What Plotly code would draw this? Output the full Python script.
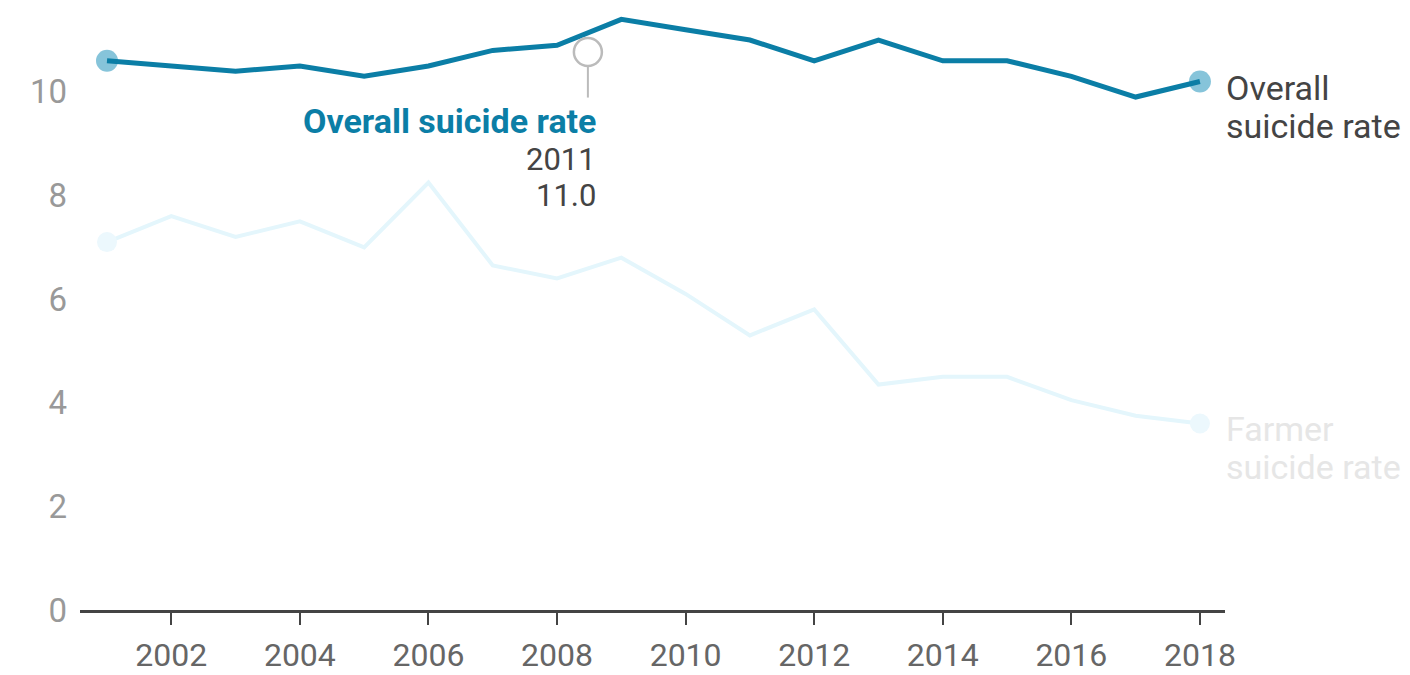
import plotly.graph_objects as go

years = list(range(2001, 2019))
overall_rate = [10.6, 10.5, 10.4, 10.5, 10.3, 10.5, 10.8, 10.9, 11.4, 11.2,
                11.0, 10.6, 11.0, 10.6, 10.6, 10.3, 9.9, 10.2]
farmer_rate = [7.1, 7.6, 7.2, 7.5, 7.0, 8.25, 6.65, 6.4, 6.8, 6.1,
               5.3, 5.8, 4.35, 4.5, 4.5, 4.05, 3.75, 3.6]
x_ticks = [2002, 2004, 2006, 2008, 2010, 2012, 2014, 2016, 2018]
y_ticks = [0, 2, 4, 6, 8, 10]

# hover tooltip shown in the picture
hover_x = 2008.48
hover_y = 10.77
hover_title = "Overall suicide rate"
hover_year = "2011"
hover_value = "11.0"

TEAL = "#0b7ea6"
TEAL_LIGHT = "#86c4da"
FARMER = "#e4f6fc"
FARMER_MARK = "#ecf8fd"
FONT = "Roboto"

fig = go.Figure()

fig.add_trace(go.Scatter(
    x=years, y=farmer_rate, mode="lines",
    line=dict(color=FARMER, width=4), hoverinfo="skip", showlegend=False))
fig.add_trace(go.Scatter(
    x=[years[0], years[-1]], y=[farmer_rate[0], farmer_rate[-1]], mode="markers",
    marker=dict(color=FARMER_MARK, size=20), hoverinfo="skip", showlegend=False))

fig.add_trace(go.Scatter(
    x=[years[0], years[-1]], y=[overall_rate[0], overall_rate[-1]], mode="markers",
    marker=dict(color=TEAL_LIGHT, size=22), hoverinfo="skip", showlegend=False))
fig.add_trace(go.Scatter(
    x=years, y=overall_rate, mode="lines",
    line=dict(color=TEAL, width=5), hoverinfo="skip", showlegend=False))

# tooltip stem + circle
fig.add_shape(type="line", xref="x", yref="y", x0=hover_x, x1=hover_x,
              y0=hover_y - 0.28, y1=hover_y - 0.88,
              line=dict(color="#bbbbbb", width=2))
fig.add_trace(go.Scatter(
    x=[hover_x], y=[hover_y], mode="markers",
    marker=dict(size=28, color="white", line=dict(color="#bbbbbb", width=2.5)),
    hoverinfo="skip", showlegend=False))

def note(x, y, text, size, color, xanchor, xshift, yshift, bold=False):
    fig.add_annotation(x=x, y=y, xref="x", yref="y", showarrow=False,
                       text=("<b>" + text + "</b>") if bold else text,
                       xanchor=xanchor, yanchor="middle", align=xanchor,
                       xshift=xshift, yshift=yshift,
                       font=dict(family=FONT, size=size, color=color))

note(hover_x, hover_y, hover_title, 34, TEAL, "right", 10, -69, bold=True)
note(hover_x, hover_y, hover_year, 31, "#444444", "right", 10, -108)
note(hover_x, hover_y, hover_value, 31, "#444444", "right", 10, -144)

# end labels
note(years[-1], overall_rate[-1], "Overall", 34, "#444444", "left", 24, -6)
note(years[-1], overall_rate[-1], "suicide rate", 34, "#444444", "left", 24, -44)
note(years[-1], farmer_rate[-1], "Farmer", 34, "#e6e6e6", "left", 24, -6)
note(years[-1], farmer_rate[-1], "suicide rate", 34, "#e6e6e6", "left", 24, -44)

fig.update_layout(
    width=1410, height=675,
    margin=dict(l=80, r=185, t=10, b=65, autoexpand=False),
    paper_bgcolor="white", plot_bgcolor="white",
    font=dict(family=FONT),
    xaxis=dict(range=[2000.58, 2018.39], tickmode="array", tickvals=x_ticks,
               ticktext=[str(v) for v in x_ticks], automargin=False,
               showgrid=False, zeroline=False, showline=True,
               linecolor="#444444", linewidth=2.5,
               ticks="outside", ticklen=12, tickwidth=2, tickcolor="#444444",
               tickfont=dict(family=FONT, size=32, color="#666666"),
               ticklabelstandoff=3),
    yaxis=dict(range=[0, 11.58], tickmode="array", tickvals=y_ticks,
               ticktext=[str(v) for v in y_ticks], automargin=False,
               showgrid=False, zeroline=False, showline=False,
               tickfont=dict(family=FONT, size=33, color="#999999"),
               ticklabelstandoff=12),
)

fig.write_html("out.html", config={"displayModeBar": False},
               post_script="document.body.style.margin='0';document.body.style.overflow='hidden';")
